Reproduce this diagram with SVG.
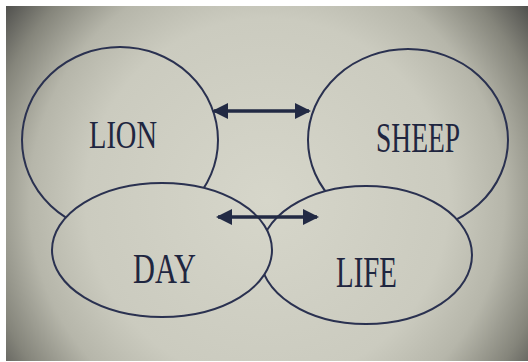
<svg xmlns="http://www.w3.org/2000/svg" width="528" height="362" viewBox="0 0 528 362">
  <defs>
    <radialGradient id="bg" gradientUnits="userSpaceOnUse" cx="267" cy="200" r="330">
      <stop offset="0" stop-color="#d6d6ca"/>
      <stop offset="0.55" stop-color="#cbcbbf"/>
      <stop offset="0.72" stop-color="#b6b6aa"/>
      <stop offset="0.87" stop-color="#85857b"/>
      <stop offset="1" stop-color="#4a4a48"/>
    </radialGradient>
    <marker id="ah" viewBox="0 0 16 16" refX="14" refY="8" markerWidth="16" markerHeight="16" markerUnits="userSpaceOnUse" orient="auto-start-reverse">
      <path d="M0,0 L16,8 L0,16 Z" fill="#222a44"/>
    </marker>
    <style>
      .node { fill: url(#bg); stroke: #2a3150; stroke-width: 2; }
      .lbl { fill: #1f2640; }
      .conn { stroke: #222a44; stroke-width: 3.5; fill: none; }
    </style>
  </defs>
  <rect x="0" y="0" width="528" height="362" fill="#ffffff"/>
  <rect x="6" y="6" width="522" height="355" fill="url(#bg)"/>

  <g id="lion">
    <ellipse class="node" cx="120" cy="140" rx="98" ry="93"/>
    <text class="lbl" font-family="'Liberation Serif', 'DejaVu Serif', serif" x="89" y="148" font-size="40" textLength="68" lengthAdjust="spacingAndGlyphs">LION</text>
  </g>
  <g id="sheep">
    <ellipse class="node" cx="408" cy="140" rx="100" ry="91"/>
    <text class="lbl" font-family="'Liberation Serif', 'DejaVu Serif', serif" x="376" y="152" font-size="42" textLength="84" lengthAdjust="spacingAndGlyphs">SHEEP</text>
  </g>
  <g id="life">
    <ellipse class="node" cx="366" cy="255" rx="106" ry="69"/>
    <text class="lbl" font-family="'Liberation Serif', 'DejaVu Serif', serif" x="336" y="287" font-size="44" textLength="61" lengthAdjust="spacingAndGlyphs">LIFE</text>
  </g>
  <g id="day">
    <ellipse class="node" cx="162" cy="250" rx="110" ry="67"/>
    <text class="lbl" font-family="'Liberation Serif', 'DejaVu Serif', serif" x="133" y="283" font-size="43" textLength="63" lengthAdjust="spacingAndGlyphs">DAY</text>
  </g>

  <g id="connectors">
    <line class="conn" x1="214" y1="111" x2="309" y2="111" marker-start="url(#ah)" marker-end="url(#ah)"/>
    <line class="conn" x1="218" y1="217" x2="317" y2="217" marker-start="url(#ah)" marker-end="url(#ah)"/>
  </g>
</svg>
